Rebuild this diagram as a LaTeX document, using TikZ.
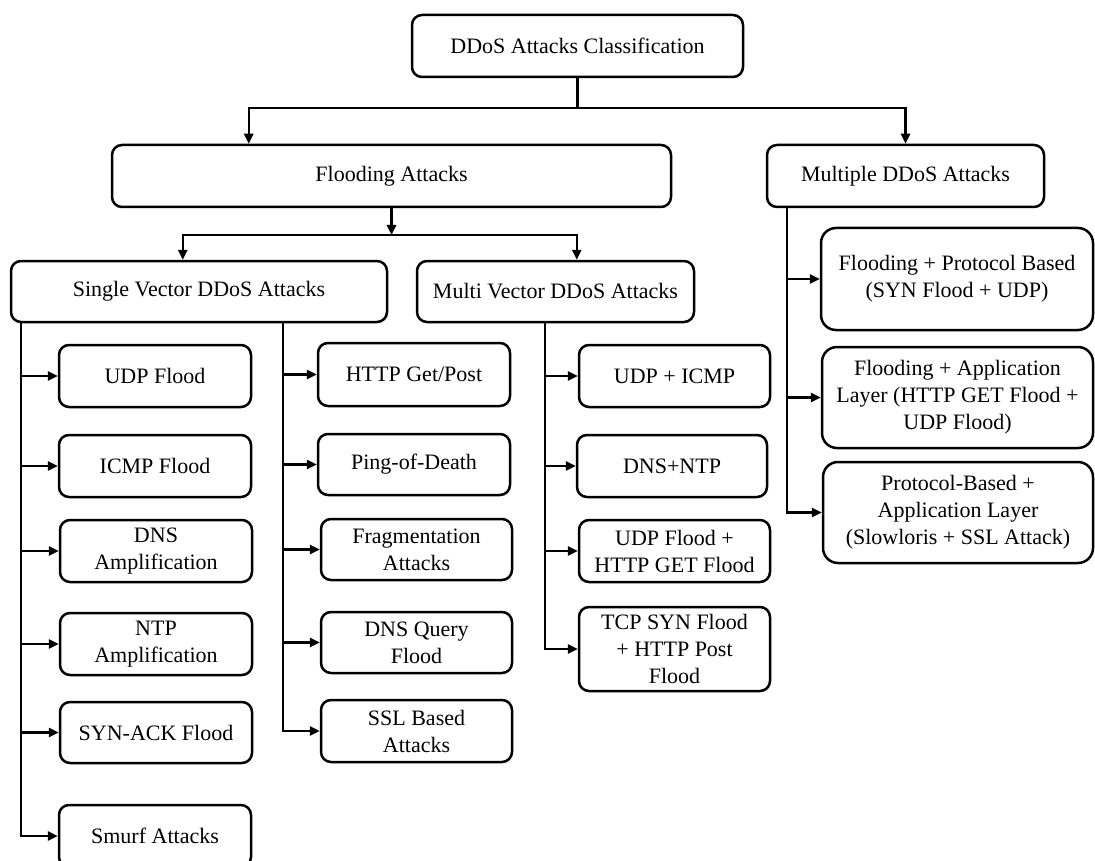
\documentclass[tikz,border=0pt]{standalone}
\usepackage{fontspec}
\setmainfont{Liberation Serif}
\usetikzlibrary{arrows.meta}

\tikzset{
  box/.style={draw, line width=2.5pt, rounded corners=10pt, align=center,
              inner sep=0pt, font=\fontsize{22}{27}\selectfont},
  bigbox/.style={box, rounded corners=15pt},
  link/.style={line width=2.4pt},
  arr/.style={link, -{Triangle[length=10pt,width=9pt]}}
}

\begin{document}
\begin{tikzpicture}[x=1pt, y=-1pt]
\useasboundingbox (0,0) rectangle (1095,861);
\clip (0,0) rectangle (1095,861);

% top levels
\node[box, minimum width=331, minimum height=62] (top) at (577.5,46) {DDoS Attacks Classification};
\node[box, minimum width=559, minimum height=62] (flood) at (391.5,176) {Flooding Attacks};
\node[box, minimum width=277, minimum height=62] (multiple) at (905.5,176) {Multiple DDoS Attacks};
\node[box, minimum width=376, minimum height=61] (single) at (199,291.5) {Single Vector DDoS Attacks};
\node[box, minimum width=277, minimum height=61] (multi) at (555.5,291.5) {Multi Vector DDoS Attacks};

% single vector attacks, left column
\node[box, minimum width=192, minimum height=62] (udp) at (155,376) {UDP Flood};
\node[box, minimum width=192, minimum height=62] (icmp) at (155,466) {ICMP Flood};
\node[box, minimum width=192, minimum height=62] (dnsa) at (156,551) {DNS\\Amplification};
\node[box, minimum width=192, minimum height=62] (ntpa) at (156,644) {NTP\\Amplification};
\node[box, minimum width=192, minimum height=61] (synack) at (156,732.5) {SYN-ACK Flood};
\node[box, minimum width=192, minimum height=62] (smurf) at (155,836) {Smurf Attacks};

% single vector attacks, right column
\node[box, minimum width=192, minimum height=63] (http) at (414,374.5) {HTTP Get/Post};
\node[box, minimum width=192, minimum height=61] (ping) at (414,464.5) {Ping-of-Death};
\node[box, minimum width=191, minimum height=61] (frag) at (416.5,549.5) {Fragmentation\\Attacks};
\node[box, minimum width=191, minimum height=61] (dnsq) at (416.5,642.5) {DNS Query\\Flood};
\node[box, minimum width=191, minimum height=62] (ssl) at (416.5,731) {SSL Based\\Attacks};

% multi vector attacks
\node[box, minimum width=191, minimum height=62] (udpicmp) at (674.5,376) {UDP + ICMP};
\node[box, minimum width=190, minimum height=62] (dnsntp) at (672,466) {DNS+NTP};
\node[box, minimum width=191, minimum height=62] (udphttp) at (674.5,551) {UDP Flood +\\HTTP GET Flood};
\node[box, minimum width=191, minimum height=84] (tcphttp) at (674.5,649) {TCP SYN Flood\\+ HTTP Post\\Flood};

% multiple attacks
\node[bigbox, minimum width=272, minimum height=102] (fp) at (957,279) {Flooding + Protocol Based\\(SYN Flood + UDP)};
\node[bigbox, minimum width=271, minimum height=101] (fa) at (957.5,397.5) {Flooding + Application\\Layer (HTTP GET Flood +\\UDP Flood)};
\node[bigbox, minimum width=270, minimum height=101] (pa) at (958,512.5) {Protocol-Based +\\Application Layer\\(Slowloris + SSL Attack)};

% buses and trunks
\coordinate (bus1) at (top.south |- 0,108);
\coordinate (bus2) at (flood.south |- 0,235);
\coordinate (lt) at ([xshift=11pt]single.south west);
\coordinate (mt) at ([xshift=273pt]single.south west);
\coordinate (vt) at ([xshift=129pt]multi.south west);
\coordinate (rt) at ([xshift=21pt]multiple.south west);

% upper connectors
\draw[link] (top.south) -- (bus1);
\draw[arr] (bus1) -| ([xshift=138pt]flood.north west);
\draw[arr] (bus1) -| (multiple.north);
\draw[arr] (flood.south) -- (bus2);
\draw[arr] (bus2) -| ([xshift=173pt]single.north west);
\draw[arr] (bus2) -| ([xshift=161pt]multi.north west);

% single vector, left trunk
\draw[arr] (lt) |- (smurf.west);
\foreach \n in {udp,icmp,dnsa,ntpa,synack}
  \draw[arr] (\n.west -| lt) -- (\n.west);

% single vector, right trunk
\draw[arr] (mt) |- (ssl.west);
\foreach \n in {http,ping,frag,dnsq}
  \draw[arr] (\n.west -| mt) -- (\n.west);

% multi vector trunk
\draw[arr] (vt) |- (tcphttp.west);
\foreach \n in {udpicmp,dnsntp,udphttp}
  \draw[arr] (\n.west -| vt) -- (\n.west);

% multiple attacks trunk
\draw[arr] (rt) |- (pa.west);
\foreach \n in {fp,fa}
  \draw[arr] (\n.west -| rt) -- (\n.west);
\end{tikzpicture}
\end{document}
